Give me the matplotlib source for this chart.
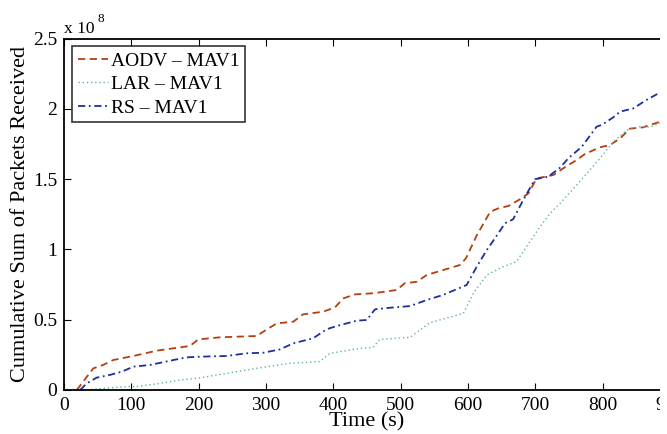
import matplotlib
matplotlib.use("Agg")
import matplotlib.pyplot as plt
from matplotlib.patches import Rectangle

plt.rcParams['font.family'] = ['Liberation Serif', 'DejaVu Serif']

aodv_t = [19, 43.5, 58, 73, 103, 138, 187, 199.5, 232, 286, 301, 316, 340.6, 355, 385, 402.5,
          415, 432, 459, 494, 506, 524, 538.7, 563, 588, 597, 613, 633, 645, 660, 677, 689.6,
          702, 726.7, 746.6, 761.5, 773.8, 796, 811, 826, 840.6, 860, 885, 900]
aodv_v = [0, 0.154, 0.178, 0.213, 0.242, 0.28, 0.313, 0.36, 0.375, 0.384, 0.43, 0.474, 0.486,
          0.538, 0.557, 0.588, 0.652, 0.68, 0.688, 0.711, 0.759, 0.77, 0.818, 0.853, 0.889, 0.937,
          1.10, 1.268, 1.292, 1.309, 1.356, 1.398, 1.505, 1.529, 1.593, 1.636, 1.679, 1.726,
          1.743, 1.79, 1.859, 1.868, 1.908, 1.93]

lar_t = [28, 93, 108, 142.6, 172, 197, 241.6, 286, 335.6, 380, 395, 439.6, 459, 469, 514,
         543.6, 593, 608, 628, 652.5, 672, 682, 707, 722, 736.7, 761.5, 781, 796, 816, 836,
         855.5, 870, 885, 900]
lar_v = [0, 0.024, 0.024, 0.047, 0.071, 0.083, 0.118, 0.154, 0.19, 0.202, 0.261, 0.296,
         0.303, 0.36, 0.375, 0.479, 0.545, 0.688, 0.818, 0.877, 0.913, 0.984, 1.161, 1.257,
         1.327, 1.458, 1.565, 1.648, 1.766, 1.849, 1.873, 1.87, 1.897, 1.93]

rs_t = [24, 33.7, 48.5, 68, 85.7, 103, 127.7, 162.4, 182, 202, 241.6, 271, 296, 320.8, 340.6,
        370, 390, 405, 434.7, 449.6, 462, 484, 514, 538.7, 563, 598, 613, 628, 640, 655, 667,
        682, 699.5, 719, 736.7, 749, 769, 791, 798.6, 816, 826, 845.6, 865, 885, 900]
rs_v = [0, 0.047, 0.088, 0.107, 0.13, 0.166, 0.178, 0.213, 0.232, 0.237, 0.242, 0.261, 0.265,
        0.289, 0.332, 0.368, 0.432, 0.455, 0.493, 0.498, 0.574, 0.585, 0.597, 0.64, 0.676,
        0.747, 0.877, 0.996, 1.079, 1.186, 1.214, 1.351, 1.499, 1.517, 1.581, 1.648, 1.73,
        1.873, 1.885, 1.94, 1.98, 2.003, 2.063, 2.115, 2.15]

labels = ['AODV \u2013 MAV1', 'LAR \u2013 MAV1', 'RS \u2013 MAV1']
xticks = [0, 100, 200, 300, 400, 500, 600, 700, 800, 900]
yticks = [0, 0.5, 1, 1.5, 2, 2.5]
ytick_labels = ['0', '0.5', '1', '1.5', '2', '2.5']

fig = plt.figure(figsize=(6.67, 4.34), dpi=100)
ax = fig.add_axes([64/667, 44/434, (670-64)/667, (390-38.5)/434])

ax.plot(aodv_t, aodv_v, color='#b5400f', ls=(0, (4, 2.5)), lw=1.3, label=labels[0])
ax.plot(lar_t, lar_v, color='#5fb597', ls=(0, (1, 2)), lw=1.0, label=labels[1])
ax.plot(rs_t, rs_v, color='#1c2f9c', ls=(0, (4, 2, 1, 2)), lw=1.3, label=labels[2])

ax.set_xlim(0, 900)
ax.set_ylim(0, 2.5)
ax.set_xticks(xticks)
ax.set_yticks(yticks)
ax.set_yticklabels(ytick_labels)
ax.tick_params(direction='in', length=5, labelsize=14, top=True, right=True, pad=5)
for s in ax.spines.values():
    s.set_linewidth(1.3)

ax.set_xlabel('Time (s)', fontsize=16, labelpad=-1)
ax.set_ylabel('Cumulative Sum of Packets Received', fontsize=16, labelpad=2)

leg = ax.legend(loc='upper left', fontsize=14, frameon=True, fancybox=False,
                edgecolor='black', handlelength=1.55, handletextpad=0.15,
                borderaxespad=0.4, labelspacing=0.3, borderpad=0.3)
leg.get_frame().set_linewidth(1.2)

fig.text(64/667, 1 - 33/434, 'x 10', fontsize=12.5, ha='left', va='baseline')
fig.text(97/667, 1 - 22/434, '8', fontsize=9.5, ha='left', va='baseline')

# the reference image is cropped on the right edge
fig.patches.append(Rectangle((660/667, 0), 7/667, 1, transform=fig.transFigure,
                             facecolor='white', edgecolor='none', zorder=10))

fig.savefig('out.png', dpi=100)
